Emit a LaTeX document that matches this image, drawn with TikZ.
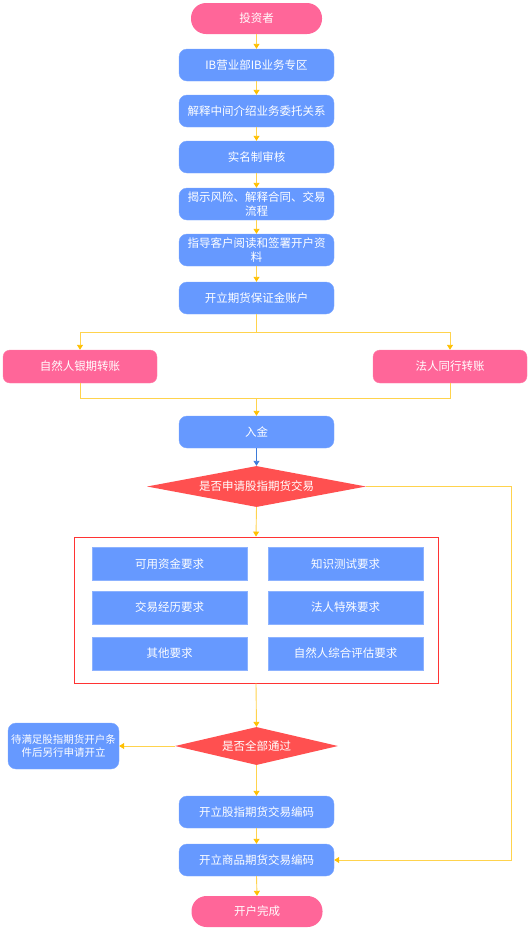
\documentclass[tikz,border=0pt]{standalone}
\usepackage{fontspec}
\newfontfamily\cjk{Noto Sans CJK SC}
\usetikzlibrary{shapes.geometric,arrows.meta}
\definecolor{pinkc}{HTML}{FF6699}
\definecolor{bluec}{HTML}{6699FF}
\definecolor{redc}{HTML}{FF5050}
\definecolor{framec}{HTML}{FF3333}
\definecolor{arrc}{HTML}{FFC000}
\definecolor{linec}{HTML}{FFD34D}
\definecolor{darkarr}{HTML}{3D7BD9}
\tikzset{
  pill/.style={fill=pinkc, rounded corners=15pt, minimum width=131pt, minimum height=31pt, text=white, inner sep=0pt},
  bluebox/.style={fill=bluec, draw=bluec!85!white, rounded corners=8pt, minimum width=155pt, minimum height=32pt, text=white, inner sep=1pt, align=center},
  pinkbox/.style={fill=pinkc, draw=pinkc!85!white, rounded corners=7pt, minimum width=154pt, minimum height=33pt, text=white, inner sep=0pt},
  sqbox/.style={fill=bluec, draw=bluec!75!white, minimum width=155pt, minimum height=33pt, text=white, inner sep=0pt},
  diam/.style={diamond, fill=redc, text=white, inner sep=0pt},
  conn/.style={draw=linec, line width=0.9pt, -{Triangle[width=6pt,length=5pt,color=arrc]}},
  plain/.style={draw=linec, line width=0.9pt},
}
\begin{document}
\begin{tikzpicture}[x=1pt,y=-1pt, font=\cjk\fontsize{11.5}{13.5}\selectfont]
\useasboundingbox (0,0) rectangle (530,930);

\node[pill] (tz) at (256.5,18.5) {投资者};
\node[bluebox] (n1) at (256.5,65) {IB营业部IB业务专区};
\node[bluebox] (n2) at (256.5,111) {解释中间介绍业务委托关系};
\node[bluebox] (n3) at (256.5,157) {实名制审核};
\node[bluebox] (n4) at (256.5,204) {揭示风险、解释合同、交易\\流程};
\node[bluebox] (n5) at (256.5,250) {指导客户阅读和签署开户资\\料};
\node[bluebox] (n6) at (256.5,298) {开立期货保证金账户};

\node[pinkbox] (b1) at (80,366.5) {自然人银期转账};
\node[pinkbox] (b2) at (450,366.5) {法人同行转账};

\node[bluebox] (rj) at (256.5,432) {入金};
\node[diam, shape aspect=5.34, minimum width=219pt, minimum height=41pt] (d1) at (256.5,486.5) {是否申请股指期货交易};

\node[draw=framec, line width=0.9pt, minimum width=364pt, minimum height=146pt, inner sep=0pt] (frame) at (256,610) {};
\node[sqbox] (r1) at (169.5,564) {可用资金要求};
\node[sqbox] (r2) at (345.5,564) {知识测试要求};
\node[sqbox] (r3) at (169.5,607.5) {交易经历要求};
\node[sqbox] (r4) at (345.5,607.5) {法人特殊要求};
\node[sqbox] (r5) at (169.5,653.5) {其他要求};
\node[sqbox] (r6) at (345.5,653.5) {自然人综合评估要求};

\node[diam, shape aspect=4.29, minimum width=163pt, minimum height=38pt] (d2) at (256.5,746) {是否全部通过};
\node[bluebox, minimum width=111pt, minimum height=46pt, font=\cjk\fontsize{10.5}{13}\selectfont] (wt) at (63.5,746) {待满足股指期货开户条\\件后另行申请开立};

\node[bluebox] (k1) at (256.5,812) {开立股指期货交易编码};
\node[bluebox] (k2) at (256.5,860) {开立商品期货交易编码};
\node[pill] (end) at (257,911.5) {开户完成};

\draw[conn] (tz.south) -- (n1.north);
\draw[conn] (n1.south) -- (n2.north);
\draw[conn] (n2.south) -- (n3.north);
\draw[conn] (n3.south) -- (n4.north);
\draw[conn] (n4.south) -- (n5.north);
\draw[conn] (n5.south) -- (n6.north);

\coordinate (sp) at (256.5,332);
\draw[plain] (n6.south) -- (sp);
\draw[conn] (sp) -| (b1.north);
\draw[conn] (sp) -| (b2.north);
\coordinate (mg) at (256.5,398);
\draw[plain] (b1.south) |- (mg);
\draw[plain] (b2.south) |- (mg);
\draw[conn] (mg) -- (rj.north);

\draw[draw=darkarr, line width=0.9pt, -{Triangle[width=6pt,length=5pt]}] (rj.south) -- (d1.north);
\draw[conn] (d1.south) -- (frame.north);
\draw[conn] (frame.south) -- (d2.north);
\draw[conn] (d2.west) -- (wt.east);
\draw[conn] (d2.south) -- (k1.north);
\draw[conn] (k1.south) -- (k2.north);
\draw[conn] (k2.south) -- (end.north);

\coordinate (rc) at (511,486.5);
\draw[conn] (d1.east) -- (rc) |- (k2.east);
\end{tikzpicture}
\end{document}
